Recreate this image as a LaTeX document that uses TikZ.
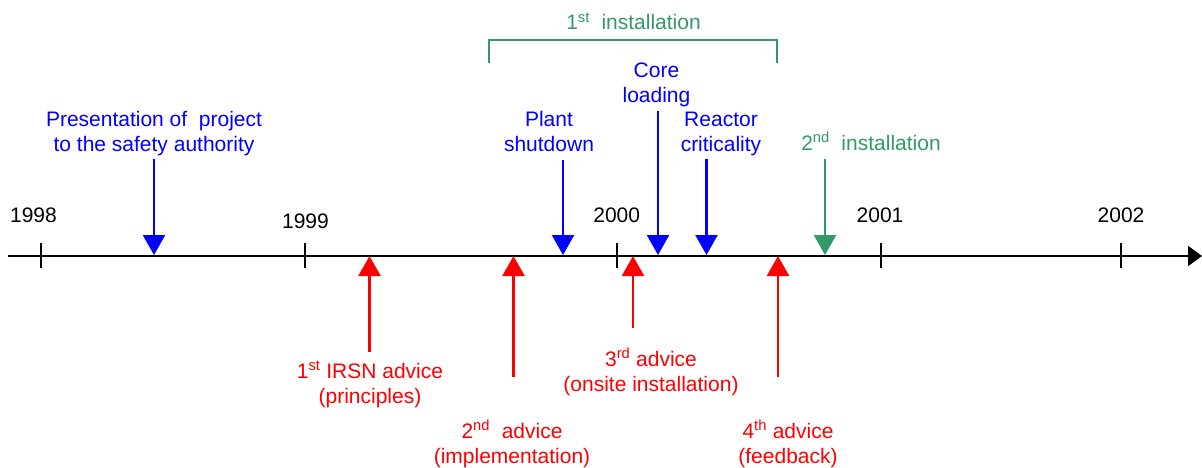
\documentclass[tikz,border=0pt]{standalone}
\usepackage{fontspec}
\setmainfont{Liberation Sans}
\usetikzlibrary{arrows.meta}
\definecolor{evblue}{RGB}{0,0,255}
\definecolor{evred}{RGB}{255,0,0}
\definecolor{evgreen}{RGB}{51,153,102}
\begin{document}
\begin{tikzpicture}[x=1pt,y=-1pt,
  lbl/.style={font=\fontsize{21}{25}\selectfont, inner sep=0pt, align=center, anchor=base},
  yearlbl/.style={lbl, text=black},
  bluelbl/.style={lbl, text=evblue},
  redlbl/.style={lbl, text=evred},
  greenlbl/.style={lbl, text=evgreen},
  axisline/.style={line width=2pt, black, -{Triangle[width=20pt,length=14pt]}},
  tickline/.style={line width=2pt, black},
  downarrow/.style={line width=2.4pt, -{Triangle[width=22pt,length=20pt]}},
  bluearrow/.style={downarrow, evblue},
  greenarrow/.style={downarrow, evgreen},
  redarrow/.style={line width=2.4pt, evred, -{Triangle[width=22pt,length=20pt]}},
  bracketline/.style={line width=2pt, evgreen}]
\useasboundingbox (0,0) rectangle (1202,468);

% timeline
\coordinate (axisstart) at (8,256);
\coordinate (axisend) at (1202,256);
\draw[axisline] (axisstart) -- (axisend);

% ticks
\foreach \name/\x in {t1998/40.7, t1999/304.5, t2000/617, t2001/881, t2002/1121}{
  \coordinate (\name top) at (\x,243);
  \coordinate (\name bot) at (\x,268);
  \draw[tickline] (\name top) -- (\name bot);
}

% year labels
\node[yearlbl] (y1998) at (33.5,222.7) {1998};
\node[yearlbl] (y1999) at (305.5,228) {1999};
\node[yearlbl] (y2000) at (616.7,222.7) {2000};
\node[yearlbl] (y2001) at (880,222.7) {2001};
\node[yearlbl] (y2002) at (1121,222.7) {2002};

% blue events (base anchor = baseline of last line)
\node[bluelbl] (pres) at (154,151.7) {Presentation of\ \ project\\to the safety authority};
\coordinate (pres s) at (154,159);
\coordinate (pres e) at (154,255);
\draw[bluearrow] (pres s) -- (pres e);

\node[bluelbl] (shut) at (549,152) {Plant\\shutdown};
\coordinate (shut s) at (563,160);
\coordinate (shut e) at (563,255);
\draw[bluearrow] (shut s) -- (shut e);

\node[bluelbl] (core) at (656.5,103) {Core\\loading};
\coordinate (core s) at (658,111);
\coordinate (core e) at (658,255);
\draw[bluearrow] (core s) -- (core e);

\node[bluelbl] (crit) at (721,152) {Reactor\\criticality};
\coordinate (crit s) at (706.5,159);
\coordinate (crit e) at (706.5,255);
\draw[bluearrow] (crit s) -- (crit e);

% green
\node[greenlbl] (inst1) at (633.5,30) {1\textsuperscript{st}\ \ installation};
\coordinate (br1) at (489,63);
\coordinate (br2) at (489,40);
\coordinate (br3) at (777,40);
\coordinate (br4) at (777,63);
\draw[bracketline] (br1) -- (br2) -- (br3) -- (br4);

\node[greenlbl] (inst2) at (871,150) {2\textsuperscript{nd}\ \ installation};
\coordinate (inst2 s) at (825,159);
\coordinate (inst2 e) at (825,255);
\draw[greenarrow] (inst2 s) -- (inst2 e);

% red events
\node[redlbl] (adv1) at (370,403) {1\textsuperscript{st} IRSN advice\\(principles)};
\coordinate (adv1 s) at (369.5,352);
\coordinate (adv1 e) at (369.5,256);
\draw[redarrow] (adv1 s) -- (adv1 e);

\node[redlbl] (adv2) at (512,463) {2\textsuperscript{nd}\ \ advice\\(implementation)};
\coordinate (adv2 s) at (513.5,377);
\coordinate (adv2 e) at (513.5,256);
\draw[redarrow] (adv2 s) -- (adv2 e);

\node[redlbl] (adv3) at (651,391) {3\textsuperscript{rd} advice\\(onsite installation)};
\coordinate (adv3 s) at (633,328);
\coordinate (adv3 e) at (633,256);
\draw[redarrow] (adv3 s) -- (adv3 e);

\node[redlbl] (adv4) at (788,463) {4\textsuperscript{th} advice\\(feedback)};
\coordinate (adv4 s) at (778,377);
\coordinate (adv4 e) at (778,256);
\draw[redarrow] (adv4 s) -- (adv4 e);
\end{tikzpicture}
\end{document}
